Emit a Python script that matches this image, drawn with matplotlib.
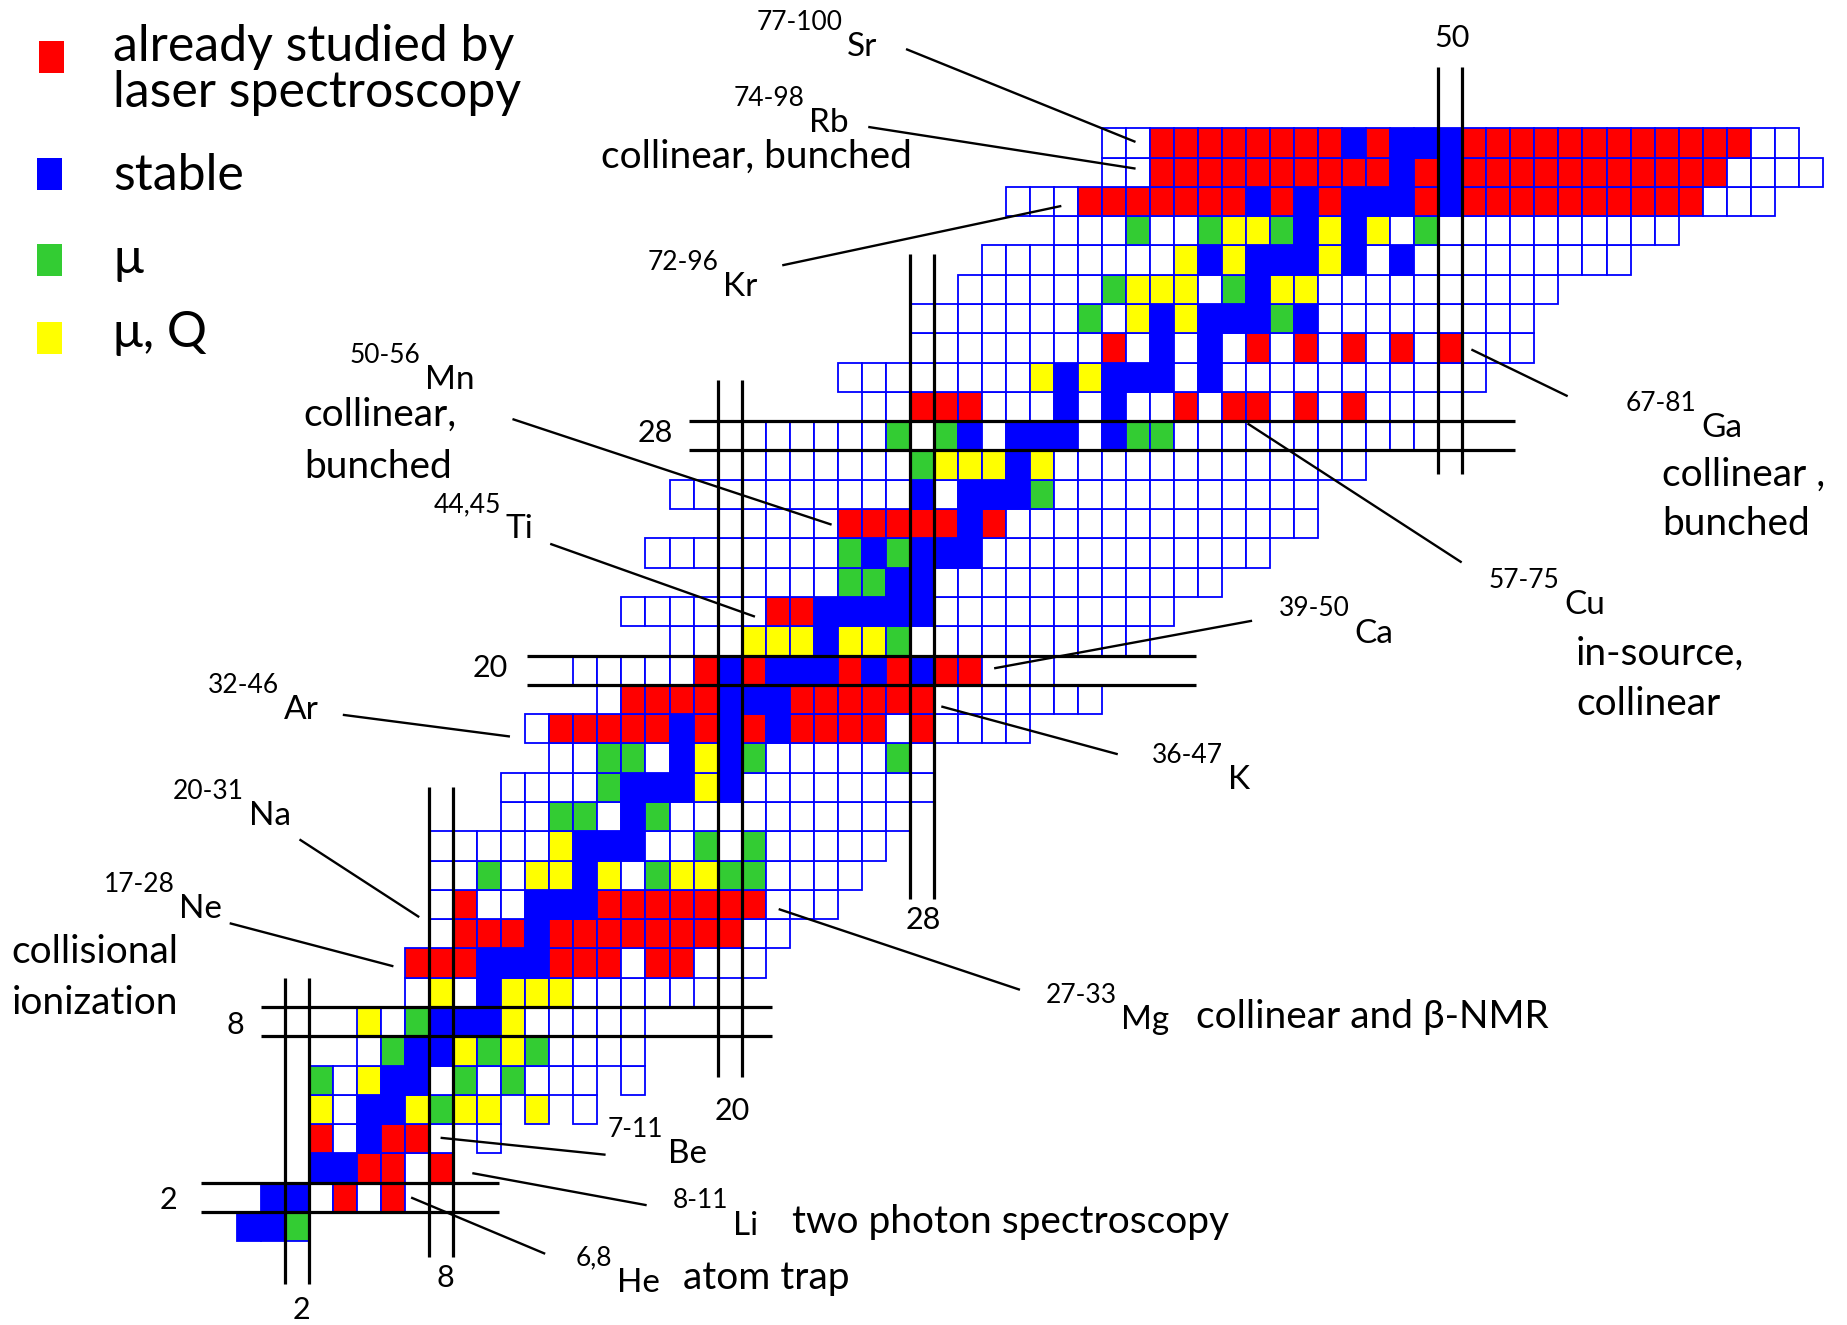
import matplotlib
matplotlib.use('Agg')
import matplotlib.pyplot as plt
from matplotlib.patches import Rectangle

plt.rcParams['font.family'] = ['Lato', 'DejaVu Sans']

# chart of nuclides, one row per proton number Z
# codes: w = not studied, r = laser spectroscopy, b = stable, g = mu, y = mu and Q, . = no cell
z_values = list(range(1, 39))
first_n = [0, 1, 3, 3, 3, 3, 5, 5, 7, 7,
           8, 8, 8, 8, 11, 11, 13, 12, 15, 14,
           18, 16, 20, 17, 20, 18, 20, 20, 26, 25,
           28, 28, 30, 31, 34, 32, 36, 36]
row_codes = [
    "bbg",
    "bbwrwr",
    "bbrrwr",
    "rwbrrw.w",
    "ywbbygyy.y.w",
    "gwybbwgwgwww.w",
    "wgbbygygwwww",
    "ywgbbbywwwww",
    "wywbyyywwwww",
    "rrrbbbrrrwrrwww",
    "wrrrbrrrrrrrrww",
    "wrwwbbbrrrrrrrwww",
    "wwgwyybywgyyggwwww",
    "wwwwwybbbwwgwgwwwww",
    "wwggwbg" + "w" * 10,
    "wwwwgbbbyb" + "w" * 8,
    "wwggwbybg" + "w" * 5 + "gw",
    "wrrrrrbrbrbrrrrwrwwww",
    "wrrrrbbbrrrrrrwwwwwww",
    "wwwwwrbrbbbrbrbrrwww",
    "wwwyyybyyg" + "w" * 10,
    "wwwwwwrrbbbbb" + "w" * 10,
    "wwwwwggbb" + "w" * 12,
    "w" * 8 + "gbgbbb" + "w" * 12,
    "w" * 5 + "rrrrrbr" + "w" * 13,
    "w" * 10 + "bwbbbg" + "w" * 11,
    "w" * 8 + "gyyyby" + "w" * 13,
    "w" * 7 + "gwgbwbbbwbgg" + "w" * 12,
    "wwrrrwwwbwbwwrwrrwrwr" + "wwww",
    "w" * 8 + "ybybbbwb" + "w" * 11,
    "w" * 8 + "rwbwbwrwrwrwrwr" + "www",
    "w" * 7 + "gwybybbbgb" + "w" * 9,
    "w" * 6 + "gyyywgbyy" + "w" * 10,
    "w" * 8 + "ybybbbybwb" + "w" * 9,
    "wwwgwwgyygbybywg" + "w" * 10,
    "www" + "r" * 7 + "brbrbbbrb" + "r" * 10 + "www",
    "ww" + "r" * 10 + "brb" + "r" * 11 + "wwww",
    "ww" + "r" * 8 + "brbbb" + "r" * 12 + "ww",
]

magic = [2, 8, 20, 28, 50]

key_labels = ["already studied by\nlaser spectroscopy", "stable", "\u03bc", "\u03bc, Q"]
key_codes = ["r", "b", "g", "y"]

# isotope labels: mass range and element
iso_mass = ["77-100", "74-98", "72-96", "50-56", "44,45", "32-46", "20-31", "17-28",
            "7-11", "8-11", "6,8", "27-33", "36-47", "39-50", "57-75", "67-81"]
iso_sym = ["Sr", "Rb", "Kr", "Mn", "Ti", "Ar", "Na", "Ne",
           "Be", "Li", "He", "Mg", "K", "Ca", "Cu", "Ga"]

colors = {"w": "#FFFFFF", "r": "#FF0000", "b": "#0000FF", "g": "#33CC33", "y": "#FFFF00"}

fig = plt.figure(figsize=(18.47, 13.25), dpi=100)
ax = fig.add_axes([0, 0, 1, 1])
ax.set_xlim(-9.867, 67.01)
ax.set_ylim(-1.857, 43.38)
ax.axis('off')

xs, zs, fills = [], [], []
for z, n0, codes in zip(z_values, first_n, row_codes):
    for i, c in enumerate(codes):
        if c == '.':
            continue
        xs.append(n0 + i)
        zs.append(z)
        fills.append(colors[c])
ax.bar(xs, 1, width=1, bottom=zs, align='edge', color=fills,
       edgecolor='#0000FF', linewidth=1.3, zorder=2)

# magic number lines (extent of each pair of lines)
v_span = {2: (-0.45, 10.0), 8: (0.45, 16.5), 20: (6.6, 30.4), 28: (12.7, 34.7), 50: (27.2, 41.1)}
h_span = {2: (-1.5, 10.9), 8: (1.0, 22.25), 20: (12.05, 39.9), 28: (18.8, 53.2)}
for m in magic:
    lo, hi = v_span[m]
    ax.vlines([m, m + 1], lo, hi, color='black', lw=2.3, zorder=3)
    if m in h_span:
        lo, hi = h_span[m]
        ax.hlines([m, m + 1], lo, hi, color='black', lw=2.3, zorder=3)

magic_text = [("50", 50.59, 42.09), ("28", 17.39, 28.58), ("20", 10.53, 20.57),
              ("8", -0.06, 8.39), ("2", -2.86, 2.40), ("2", 2.69, -1.34),
              ("8", 8.67, -0.26), ("20", 20.63, 5.45), ("28", 28.57, 11.97)]
for t, x, y in magic_text:
    ax.text(x, y, t, ha='center', va='center', fontsize=22, zorder=4)

# label anchor (x, y) and pointer line start / end
label_pos = [(25.2, 42.18), (23.62, 39.6), (20.04, 33.99), (7.64, 30.83),
             (10.97, 25.73), (1.75, 19.57), (0.28, 15.93), (-2.61, 12.75),
             (17.74, 4.4), (20.43, 1.96), (15.63, 0.0), (36.61, 8.96),
             (41.03, 17.18), (46.32, 22.17), (55.05, 23.15), (60.74, 29.2)]
pointers = [((27.89, 41.69), (37.35, 38.55)), ((26.32, 39.04), (37.35, 37.63)),
            ((22.74, 34.33), (34.26, 36.34)), ((11.51, 29.06), (24.70, 25.48)),
            ((13.08, 24.80), (21.51, 22.34)), ((4.45, 18.97), (11.31, 18.24)),
            ((2.64, 14.70), (7.54, 12.09)), ((-0.26, 11.85), (6.46, 10.40)),
            ((15.29, 3.96), (8.52, 4.53)), ((17.0, 2.24), (9.84, 3.32)),
            ((12.78, 0.59), (7.29, 2.48)), ((32.54, 9.60), (22.59, 12.33)),
            ((36.61, 17.64), (29.36, 19.25)), ((42.20, 22.18), (31.56, 20.57)),
            ((50.93, 24.2), (42.1, 28.9)), ((55.34, 29.87), (51.42, 31.43))]

for mass, sym, (x, y), (p0, p1) in zip(iso_mass, iso_sym, label_pos, pointers):
    ax.text(x, y + 0.42, mass, ha='right', va='center', fontsize=19, zorder=4)
    ax.text(x + 0.2, y - 0.42, sym, ha='left', va='center', fontsize=24, zorder=4)
    ax.plot([p0[0], p1[0]], [p0[1], p1[1]], color='black', lw=1.7, zorder=4)

notes = [("collinear, bunched", 15.14, 38.03), ("collinear,", 2.78, 29.22),
         ("bunched", 2.78, 27.45), ("collisional", -9.38, 10.88),
         ("ionization", -9.38, 9.15), ("two photon spectroscopy", 23.08, 1.67),
         ("atom trap", 18.57, -0.26), ("collinear and \u03b2-NMR", 39.9, 8.67),
         ("in-source,", 55.73, 21.06), ("collinear", 55.73, 19.33),
         ("collinear ,", 59.32, 27.17), ("bunched", 59.32, 25.48)]
for t, x, y in notes:
    ax.text(x, y, t, ha='left', va='center', fontsize=28, zorder=4,
            family=['Lato', 'DejaVu Serif'])

# colour key in the top left corner (axes fraction)
key_square_y = [0.9449, 0.8566, 0.7917, 0.7328]
key_square_x = [0.0211, 0.0200, 0.0200, 0.0200]
key_text_y = [0.9472, 0.8672, 0.8045, 0.7487]
for c, lab, sx, sy, ty in zip(key_codes, key_labels, key_square_x, key_square_y, key_text_y):
    ax.add_patch(Rectangle((sx, sy), 0.0135, 0.0242, transform=ax.transAxes,
                           facecolor=colors[c], edgecolor='none', zorder=4))
    ax.text(0.0612, ty, lab, transform=ax.transAxes, ha='left', va='center',
            fontsize=36, linespacing=1.02, zorder=4, family=['Lato', 'DejaVu Serif'])

fig.savefig('out.png', dpi=100)
